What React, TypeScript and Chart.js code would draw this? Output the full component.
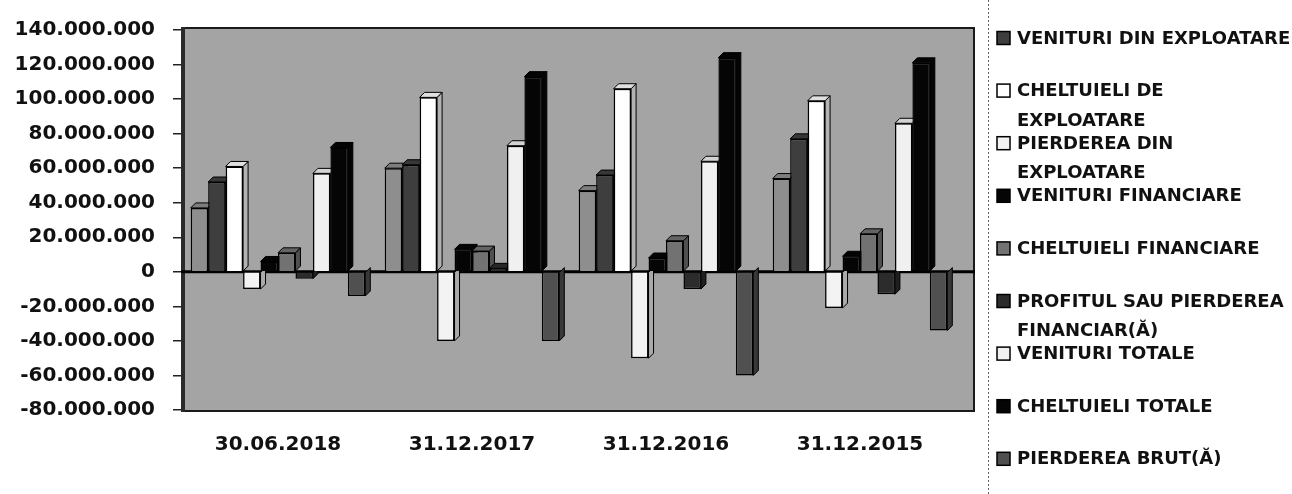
import React, { useEffect, useRef } from "react";
import { Chart, registerables } from "chart.js";

Chart.register(...registerables);

// ---------- data ----------
const categories = ["30.06.2018", "31.12.2017", "31.12.2016", "31.12.2015"];

const seriesLabels = [
  "CIFRA DE AFACERI",
  "VENITURI DIN EXPLOATARE",
  "CHELTUIELI DE EXPLOATARE",
  "PIERDEREA DIN EXPLOATARE",
  "VENITURI FINANCIARE",
  "CHELTUIELI FINANCIARE",
  "PROFITUL SAU PIERDEREA FINANCIAR(Ă)",
  "VENITURI TOTALE",
  "CHELTUIELI TOTALE",
  "PIERDEREA BRUT(Ă)",
];

const cifraDeAfaceri = [37000000, 60000000, 47000000, 54000000];
const venituriExploatare = [52000000, 62000000, 56000000, 77000000];
const cheltuieliExploatare = [61000000, 101000000, 106000000, 99000000];
const pierdereaExploatare = [-10000000, -40000000, -50000000, -21000000];
const venituriFinanciare = [6000000, 13000000, 8000000, 9000000];
const cheltuieliFinanciare = [11000000, 12000000, 18000000, 22000000];
const rezultatFinanciar = [-4000000, 2000000, -10000000, -13000000];
const venituriTotale = [57000000, 73000000, 64000000, 86000000];
const cheltuieliTotale = [72000000, 113000000, 124000000, 121000000];
const pierdereaBruta = [-14000000, -40000000, -60000000, -34000000];

const seriesValues = [
  cifraDeAfaceri,
  venituriExploatare,
  cheltuieliExploatare,
  pierdereaExploatare,
  venituriFinanciare,
  cheltuieliFinanciare,
  rezultatFinanciar,
  venituriTotale,
  cheltuieliTotale,
  pierdereaBruta,
];

const yMin = -80000000;
const yMax = 140000000;
const yStep = 20000000;

// series hidden from the legend (its entry is not visible in the source)
const legendHidden = [0];

// ---------- styles ----------
const seriesColors = [
  "#8e8e8e",
  "#3e3e3e",
  "#ffffff",
  "#f3f3f3",
  "#050505",
  "#727272",
  "#2c2c2c",
  "#f0f0f0",
  "#050505",
  "#505050",
];

const FONT = "'DejaVu Sans', 'Liberation Sans', sans-serif";

function formatThousands(v: number): string {
  const neg = v < 0;
  const s = Math.round(Math.abs(v)).toString().replace(/\B(?=(\d{3})+(?!\d))/g, ".");
  return (neg ? "-" : "") + s;
}

function shade(hex: string, f: number): string {
  const n = parseInt(hex.slice(1), 16);
  const r = Math.round(((n >> 16) & 255) * f);
  const g = Math.round(((n >> 8) & 255) * f);
  const b = Math.round((n & 255) * f);
  return `rgb(${r},${g},${b})`;
}

const wallPlugin = {
  id: "wall",
  beforeDraw(chart: any) {
    const { ctx, chartArea } = chart;
    ctx.save();
    ctx.fillStyle = "#ffffff";
    ctx.fillRect(0, 0, chart.width, chart.height);
    const l = chartArea.left;
    const r = chartArea.right + 18;
    const t = chartArea.top - 3;
    const b = chartArea.bottom + 2;
    ctx.fillStyle = "#a4a4a4";
    ctx.fillRect(l, t, r - l, b - t);
    ctx.strokeStyle = "#1a1a1a";
    ctx.lineWidth = 2;
    ctx.strokeRect(l + 1, t + 1, r - l - 2, b - t - 2);
    ctx.fillStyle = "#2a2a2a";
    ctx.fillRect(l, t, 4, b - t);
    ctx.restore();
  },
  beforeDatasetsDraw(chart: any) {
    const { ctx, chartArea, scales } = chart;
    ctx.save();
    const y0 = scales.y.getPixelForValue(0);
    ctx.strokeStyle = "#000";
    ctx.lineWidth = 3;
    ctx.beginPath();
    ctx.moveTo(chartArea.left, y0);
    ctx.lineTo(chartArea.right + 18, y0);
    ctx.stroke();
    // depth faces (drawn behind the fronts)
    const d = 5;
    chart.data.datasets.forEach((ds: any, i: number) => {
      const meta = chart.getDatasetMeta(i);
      const col = seriesColors[i];
      meta.data.forEach((el: any) => {
        const left = el.x - el.width / 2;
        const right = el.x + el.width / 2;
        const top = Math.min(el.y, el.base);
        const bot = Math.max(el.y, el.base);
        ctx.fillStyle = shade(col, 0.7);
        ctx.strokeStyle = "#000";
        ctx.lineWidth = 1;
        ctx.beginPath();
        ctx.moveTo(right, top);
        ctx.lineTo(right + d, top - d);
        ctx.lineTo(right + d, bot - d);
        ctx.lineTo(right, bot);
        ctx.closePath();
        ctx.fill();
        ctx.stroke();
        if (el.y < el.base) {
          ctx.fillStyle = shade(col, 0.88);
          ctx.beginPath();
          ctx.moveTo(left, top);
          ctx.lineTo(left + d, top - d);
          ctx.lineTo(right + d, top - d);
          ctx.lineTo(right, top);
          ctx.closePath();
          ctx.fill();
          ctx.stroke();
        }
      });
    });
    ctx.restore();
  },
};

const sideLegendPlugin = {
  id: "sideLegend",
  afterDraw(chart: any) {
    const { ctx } = chart;
    ctx.save();
    ctx.strokeStyle = "#666";
    ctx.lineWidth = 1;
    ctx.setLineDash([2, 2]);
    ctx.beginPath();
    ctx.moveTo(988.5, 0);
    ctx.lineTo(988.5, chart.height);
    ctx.stroke();
    ctx.setLineDash([]);

    const sx = 997;
    const box = 13;
    const tx = 1017;
    const maxW = 276;
    const firstY = 38;
    const step = 52.6;
    const lineH = 29.5;
    ctx.font = `bold 18px ${FONT}`;
    ctx.textBaseline = "middle";
    ctx.textAlign = "left";
    let k = 0;
    chart.data.datasets.forEach((ds: any, i: number) => {
      if (legendHidden.includes(i)) return;
      const yc = firstY + step * k;
      k++;
      ctx.fillStyle = seriesColors[i];
      ctx.fillRect(sx, yc - box / 2, box, box);
      ctx.strokeStyle = "#000";
      ctx.lineWidth = 1.5;
      ctx.strokeRect(sx, yc - box / 2, box, box);
      // greedy wrap
      const words = String(ds.label).split(" ");
      const lines: string[] = [];
      let cur = "";
      words.forEach((w) => {
        const test = cur ? cur + " " + w : w;
        if (ctx.measureText(test).width > maxW && cur) {
          lines.push(cur);
          cur = w;
        } else cur = test;
      });
      if (cur) lines.push(cur);
      ctx.fillStyle = "#111";
      lines.forEach((ln, j) => ctx.fillText(ln, tx, yc + 1 + j * lineH));
    });
    ctx.restore();
  },
};

export default function App() {
  const ref = useRef<HTMLCanvasElement | null>(null);

  useEffect(() => {
    document.body.style.margin = "0";
    if (!ref.current) return;
    const chart = new Chart(ref.current, {
      type: "bar",
      data: {
        labels: categories,
        datasets: seriesValues.map((vals, i) => ({
          label: seriesLabels[i],
          data: vals,
          backgroundColor: seriesColors[i],
          borderColor: "#000",
          borderWidth: 1.5,
          categoryPercentage: 0.9,
          barPercentage: 1.0,
        })),
      },
      options: {
        animation: false,
        responsive: true,
        maintainAspectRatio: false,
        layout: { padding: { top: 25, right: 335, bottom: 0, left: 0 } },
        plugins: {
          legend: { display: false },
          tooltip: { enabled: true },
        },
        scales: {
          x: {
            grid: { display: false },
            border: { display: false },
            ticks: {
              color: "#111",
              font: { family: FONT, size: 20, weight: "bold" },
              padding: 15,
              maxRotation: 0,
            },
            afterFit(scale: any) {
              scale.height = 84;
            },
          },
          y: {
            min: yMin,
            max: yMax,
            border: { display: false },
            grid: {
              drawOnChartArea: false,
              drawTicks: true,
              tickLength: 8,
              tickColor: "#222",
              lineWidth: 1.5,
            },
            ticks: {
              stepSize: yStep,
              color: "#111",
              font: { family: FONT, size: 20, weight: "bold" },
              padding: 18,
              callback: (v: any) => formatThousands(Number(v)),
            },
            afterFit(scale: any) {
              scale.width = 181;
            },
          },
        },
      },
      plugins: [wallPlugin, sideLegendPlugin],
    });
    return () => chart.destroy();
  }, []);

  return (
    <div style={{ width: 1292, height: 494, position: "relative" }}>
      <canvas ref={ref} />
    </div>
  );
}
